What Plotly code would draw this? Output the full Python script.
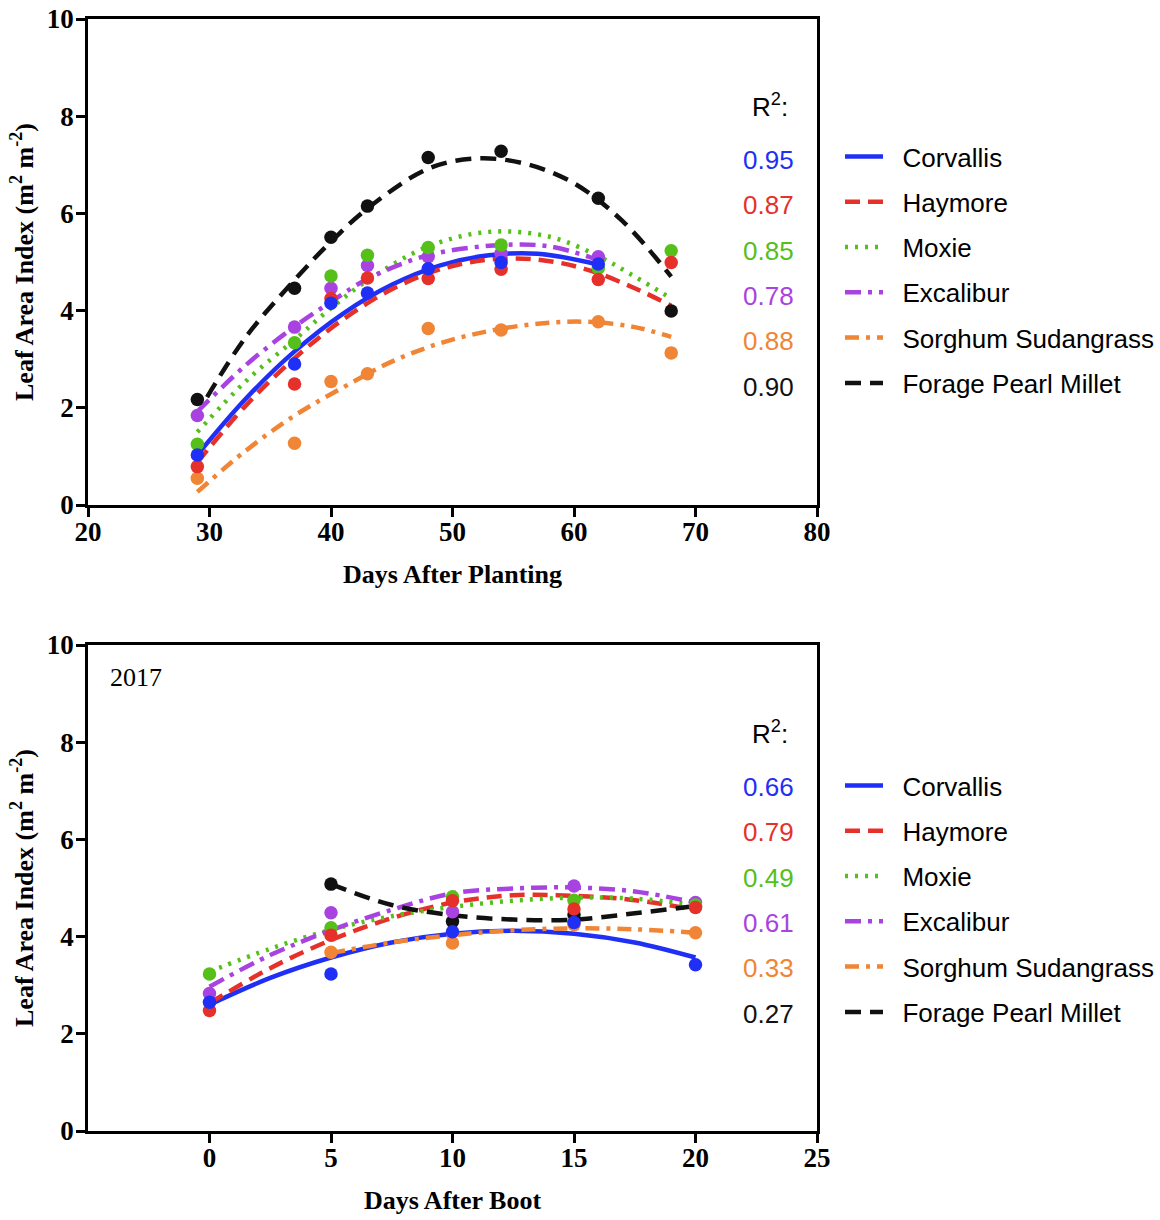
import plotly.graph_objects as go

# ---------------------------------------------------------------- data
varieties = ["Corvallis", "Haymore", "Moxie", "Excalibur",
             "Sorghum Sudangrass", "Forage Pearl Millet"]

# Leaf area index observed at days after planting
dap = [29, 37, 40, 43, 48, 54, 62, 68]
dap_corvallis = [1.03, 2.90, 4.15, 4.36, 4.86, 4.99, 4.96, None]
dap_haymore = [0.79, 2.49, 4.25, 4.67, 4.66, 4.85, 4.64, 4.99]
dap_moxie = [1.25, 3.34, 4.71, 5.14, 5.30, 5.35, 4.87, 5.23]
dap_excalibur = [1.84, 3.66, 4.46, 4.93, 5.11, 5.18, 5.11, None]
dap_sorghum = [0.55, 1.27, 2.54, 2.70, 3.63, 3.60, 3.77, 3.13]
dap_millet = [2.17, 4.46, 5.51, 6.15, 7.15, 7.28, 6.31, 3.99]

# Quadratic regression curves, days after planting
fit_dap_corvallis_x = [29, 33, 37, 41, 45, 49, 53, 57, 62]
fit_dap_corvallis_y = [1.03, 2.19, 3.16, 3.94, 4.53, 4.93, 5.14, 5.17, 4.95]
fit_dap_haymore_x = [29, 33, 37, 41, 45, 49, 53, 57, 61, 65, 68]
fit_dap_haymore_y = [0.88, 2.05, 3.02, 3.82, 4.44, 4.85, 5.05, 5.05, 4.85, 4.46, 4.10]
fit_dap_moxie_x = [29, 33, 37, 40, 43, 48, 53, 58, 62, 65, 68]
fit_dap_moxie_y = [1.50, 2.55, 3.40, 4.05, 4.62, 5.32, 5.62, 5.52, 5.12, 4.70, 4.25]
fit_dap_excalibur_x = [29, 33, 37, 40, 43, 48, 54, 58, 62]
fit_dap_excalibur_y = [1.92, 2.88, 3.67, 4.18, 4.65, 5.14, 5.35, 5.32, 5.04]
fit_dap_sorghum_x = [29, 33, 37, 41, 45, 49, 53, 57, 61, 65, 68]
fit_dap_sorghum_y = [0.27, 1.12, 1.84, 2.42, 2.95, 3.33, 3.58, 3.73, 3.77, 3.66, 3.46]
fit_dap_millet_x = [29.8, 33, 37, 40, 43, 48, 52, 56, 60, 64, 68]
fit_dap_millet_y = [2.22, 3.46, 4.63, 5.42, 6.10, 6.92, 7.13, 7.02, 6.62, 5.84, 4.70]

r2_dap = ["0.95", "0.87", "0.85", "0.78", "0.88", "0.90"]

# Leaf area index observed at days after boot (2017)
dab = [0, 5, 10, 15, 20]
dab_corvallis = [2.65, 3.23, 4.10, 4.29, 3.42]
dab_haymore = [2.48, 4.03, 4.74, 4.57, 4.60]
dab_moxie = [3.23, 4.18, 4.82, 4.75, 4.65]
dab_excalibur = [2.83, 4.49, 4.51, 5.04, 4.70]
dab_sorghum = [None, 3.68, 3.87, 4.25, 4.08]
dab_millet = [None, 5.08, 4.31, 4.45, 4.62]

# Quadratic regression curves, days after boot
fit_dab_x = [0, 2.5, 5, 7.5, 10, 12.5, 15, 17.5, 20]
fit_dab_corvallis = [2.60, 3.15, 3.57, 3.88, 4.06, 4.12, 4.06, 3.88, 3.57]
fit_dab_haymore = [2.63, 3.35, 3.93, 4.38, 4.70, 4.85, 4.84, 4.75, 4.55]
fit_dab_moxie = [3.28, 3.75, 4.14, 4.42, 4.61, 4.74, 4.80, 4.78, 4.65]
fit_dab_excalibur = [2.97, 3.62, 4.13, 4.55, 4.89, 4.99, 5.01, 4.93, 4.70]
fit_dab_sorghum = [None, None, 3.66, 3.88, 4.03, 4.13, 4.17, 4.15, 4.08]
fit_dab_millet = [None, None, 5.08, 4.65, 4.44, 4.35, 4.35, 4.48, 4.63]

r2_dab = ["0.66", "0.79", "0.49", "0.61", "0.33", "0.27"]

# ---------------------------------------------------------------- styles
colors = ["#1f2ff5", "#e5312a", "#55c01a", "#a843e2", "#ef8535", "#111111"]
dashes = ["solid", "15px,8px", "3px,7px", "16px,7px,4px,7px",
          "14px,7px,4px,7px", "16px,9px"]

obs_dap = [dap_corvallis, dap_haymore, dap_moxie, dap_excalibur, dap_sorghum, dap_millet]
fits_dap = [(fit_dap_corvallis_x, fit_dap_corvallis_y), (fit_dap_haymore_x, fit_dap_haymore_y),
            (fit_dap_moxie_x, fit_dap_moxie_y), (fit_dap_excalibur_x, fit_dap_excalibur_y),
            (fit_dap_sorghum_x, fit_dap_sorghum_y), (fit_dap_millet_x, fit_dap_millet_y)]
obs_dab = [dab_corvallis, dab_haymore, dab_moxie, dab_excalibur, dab_sorghum, dab_millet]
fits_dab = [fit_dab_corvallis, fit_dab_haymore, fit_dab_moxie, fit_dab_excalibur,
            fit_dab_sorghum, fit_dab_millet]

W, H = 1160, 1220
SERIF = "Liberation Serif"
SANS = "Liberation Sans"
NB = "\u00a0\u00a0"  # gap between legend key and its label

fig = go.Figure()

# fitted curves (legend entries)
for i, name in enumerate(varieties):
    fx, fy = fits_dap[i]
    fig.add_trace(go.Scatter(
        x=fx, y=fy, mode="lines", name=NB + name, legend="legend",
        legendgroup="a" + str(i),
        line=dict(color=colors[i], width=4.5, dash=dashes[i], shape="spline", smoothing=1.0),
        xaxis="x", yaxis="y"))
for i, name in enumerate(varieties):
    fig.add_trace(go.Scatter(
        x=fit_dab_x, y=fits_dab[i], mode="lines", name=NB + name, legend="legend2",
        legendgroup="b" + str(i),
        line=dict(color=colors[i], width=4.5, dash=dashes[i], shape="spline", smoothing=1.0),
        xaxis="x2", yaxis="y2"))

# observed points, Corvallis drawn last (on top)
for i in reversed(range(len(varieties))):
    fig.add_trace(go.Scatter(
        x=dap, y=obs_dap[i], mode="markers", showlegend=False,
        marker=dict(color=colors[i], size=13.5), xaxis="x", yaxis="y"))
    fig.add_trace(go.Scatter(
        x=dab, y=obs_dab[i], mode="markers", showlegend=False,
        marker=dict(color=colors[i], size=13.5), xaxis="x2", yaxis="y2"))

axis_common = dict(
    showline=True, linecolor="black", linewidth=2.5, mirror=True,
    ticks="outside", ticklen=9, tickwidth=2.5, tickcolor="black",
    showgrid=False, zeroline=False, automargin=False,
    tickfont=dict(family=SERIF, size=27, color="black", weight="bold"),
)
title_font = dict(family=SERIF, size=26, color="black", weight="bold")
ytitle = "Leaf Area Index (m<sup>2</sup> m<sup>-2</sup>)"

x_dom = [88 / W, 817 / W]
fig.update_layout(
    width=W, height=H,
    margin=dict(l=0, r=0, t=0, b=0, autoexpand=False),
    paper_bgcolor="white", plot_bgcolor="white",
    xaxis=dict(domain=x_dom, range=[20, 80], tickvals=[20, 30, 40, 50, 60, 70, 80],
               anchor="y", ticklabelstandoff=-8,
               title=dict(text="Days After Planting", font=title_font, standoff=19),
               **axis_common),
    yaxis=dict(domain=[1 - 505 / H, 1 - 19 / H], range=[0, 10], tickvals=[0, 2, 4, 6, 8, 10],
               anchor="x", ticklabelstandoff=-3,
               title=dict(text=ytitle, font=title_font, standoff=6),
               **axis_common),
    xaxis2=dict(domain=x_dom, range=[-5, 25], tickvals=[0, 5, 10, 15, 20, 25],
                anchor="y2", ticklabelstandoff=-8,
                title=dict(text="Days After Boot", font=title_font, standoff=19),
                **axis_common),
    yaxis2=dict(domain=[1 - 1131 / H, 1 - 645 / H], range=[0, 10], tickvals=[0, 2, 4, 6, 8, 10],
                anchor="x2", ticklabelstandoff=-3,
                title=dict(text=ytitle, font=title_font, standoff=6),
                **axis_common),
    legend=dict(x=840 / W, y=1 - 133 / H, xanchor="left", yanchor="top",
                font=dict(family=SANS, size=26, color="black"),
                tracegroupgap=8.5, itemwidth=38, bgcolor="rgba(0,0,0,0)"),
    legend2=dict(x=840 / W, y=1 - 762 / H, xanchor="left", yanchor="top",
                 font=dict(family=SANS, size=26, color="black"),
                 tracegroupgap=8.5, itemwidth=38, bgcolor="rgba(0,0,0,0)"),
)

# R² labels to the left of the legends
annotations = []
for top_r2, first_row, values in [(105, 160, r2_dap), (732, 787, r2_dab)]:
    annotations.append(dict(text="R<sup>2</sup>:", x=790 / W, y=1 - top_r2 / H,
                            xref="paper", yref="paper", xanchor="right", yanchor="middle",
                            showarrow=False, font=dict(family=SANS, size=26, color="black")))
    for i, v in enumerate(values):
        annotations.append(dict(text=v, x=796 / W, y=1 - (first_row + 45.3 * i) / H,
                                xref="paper", yref="paper", xanchor="right", yanchor="middle",
                                showarrow=False, font=dict(family=SANS, size=26, color=colors[i])))
annotations.append(dict(text="2017", x=108 / W, y=1 - 677 / H, xref="paper", yref="paper",
                        xanchor="left", yanchor="middle", showarrow=False,
                        font=dict(family=SERIF, size=26, color="black")))
fig.update_layout(annotations=annotations)

fig.write_html("out.html")
